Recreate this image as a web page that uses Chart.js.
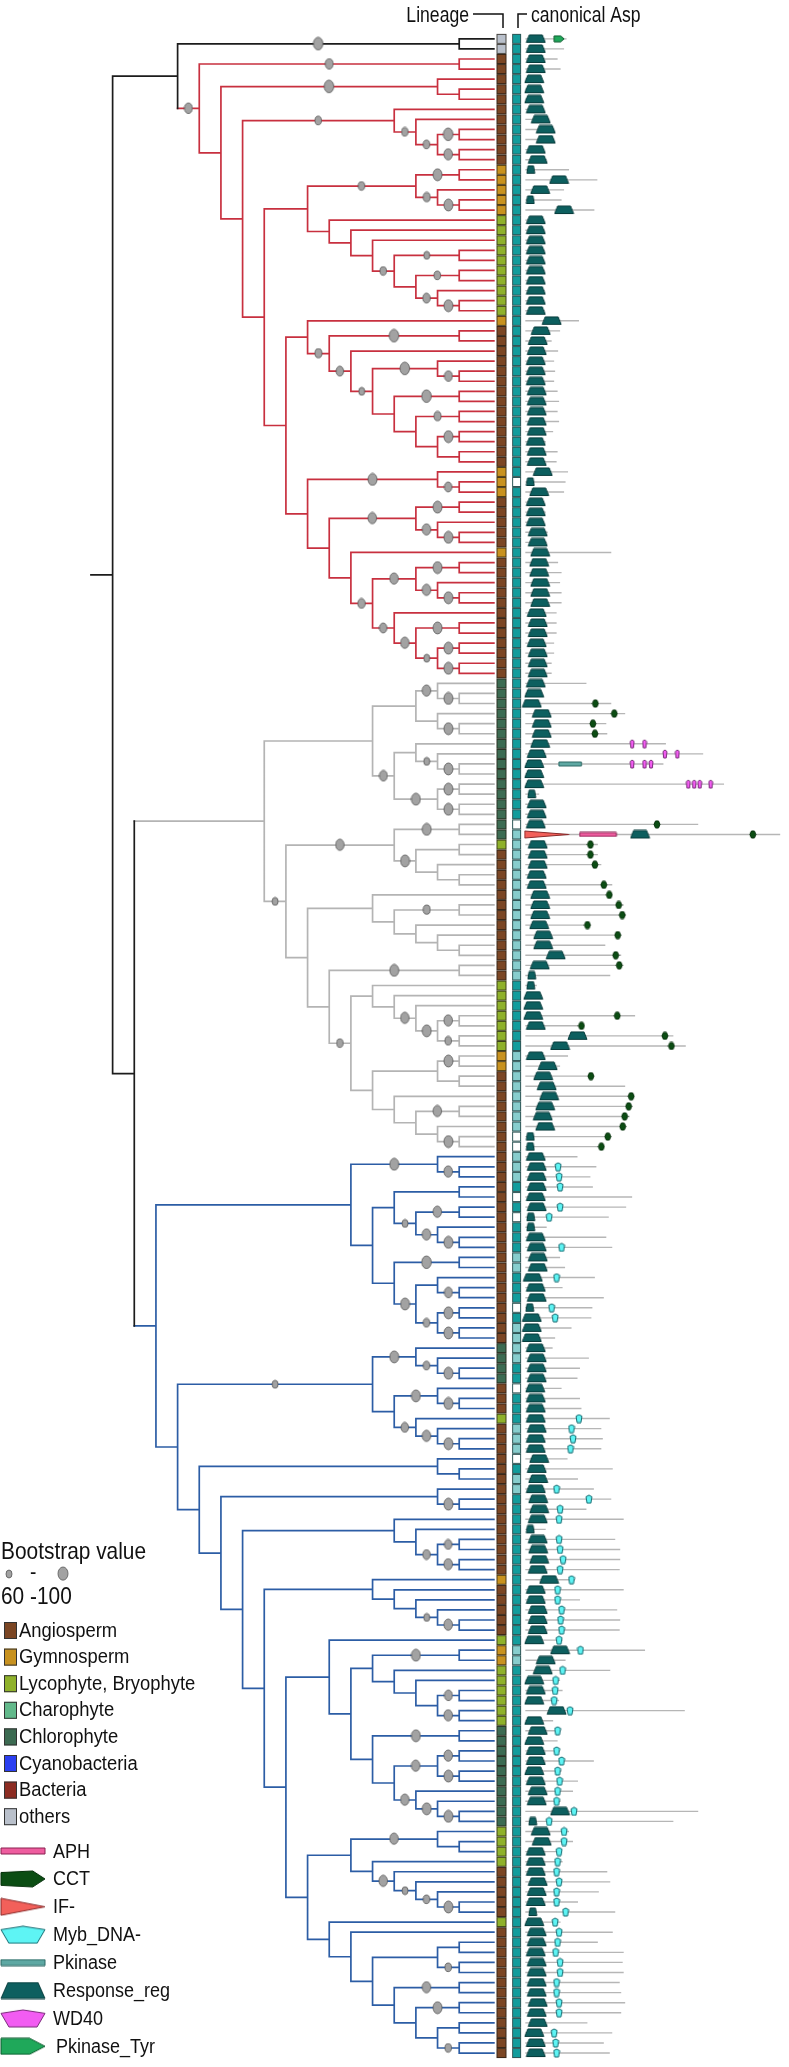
<!DOCTYPE html>
<html>
<head>
<meta charset="utf-8">
<title>Response regulator phylogeny</title>
<script src="https://cdn.jsdelivr.net/npm/chart.js@4.4.1/dist/chart.umd.min.js"></script>
<style>
  html, body { margin: 0; padding: 0; background: #fff; }
  #box { width: 789px; height: 2067px; }
</style>
</head>
<body>
<div id="box"><canvas id="tree" width="789" height="2067"></canvas></div>
<script>
// ---------- tree (cladogram levels, bootstrap 60-100 after ':') ----------
const cladeOthers = '(x,x)16:95';

const redA = '(x,(x,((x,x)16:95,(x,x)16:85)15:65)14:65)13:65';
const redB = '((x,x)16:90,(x,(x,x)16:90)15:70)14:65';
const redC = '(x,(x,(x,((x,x)16:60,((x,x)16:65,(x,(x,x)16:90)15:75)14)13:65)12)11)10';
const redD = '(x,((x,x)16:95,(x,((x,(x,x)16:80)15:95,((x,x)16:95,((x,x)16:70,((x,x)16:90,(x,x)16)15)14)13)12:60)11:75)10:70)9';
const redE = '(((x,x)16:90,(x,(x,x)16:90)15:85)14:85,(x,(((x,x)16:90,(x,(x,x)16:90)15:85)14:85,(x,((x,x)16:90,((x,x)16:90,(x,x)16:90)15:60)14:85)13:75)12:75)11)10';
const cladeRed = '((x,x)16:80,((x,(x,x)16)15:95,(' + redA + ',((' + redB + ',' + redC + ')9,(' + redD +
  ',((x,(x,x)16:75)15:90,' + redE + ')9)8)7)6)5)4:80#r';

const grayA = '(((x,(x,x)16:90)15:85,(x,(x,x)16:90)15)14,((x,(x,(x,x)16:90)15:60)14,((x,x)16:90,(x,x)16:90)15:90)13:80)12';
const grayB = '((x,x)16:90,((x,x)16,(x,(x,x)16)15)14:90)13:85';
const grayC = '((x,((x,x)16:70,(x,(x,(x,x)16)15)14)13)12,((x,x)16:90,((x,(x,(x,((x,x)16:85,(x,x)16:65)15:90)14:85)13)12,(((x,x)16:90,(x,x)16)15,(x,((x,x)16:85,(x,(x,x)16:90)15)14)13)12)11:65)10)9';
const cladeGray = '(' + grayA + ',(' + grayB + ',' + grayC + ')8:60)7#g';

const blueA = '((x,(x,x)16:85)15:90,(((x,x)16,((x,x)16:85,(x,(x,x)16:90)15:85)14:60)13,((x,x)16:95,((x,(x,x)16:80)15,((x,x)16:90,(x,x)16:90)15:65)14:90)13)12)11';
const blueB = '((x,(x,(x,x)16:90)15:65)14:90,((x,(x,x)16:90)15:90,(x,(x,(x,x)16:90)15:85)14:75)13)12:60';
const blueC = '(x,(x,((x,x)16:75,(x,x)16:85)15:75)14)13';
const blueD = '(x,(x,(x,(x,(x,x)16:85)15:60)14)13)12';
const blueE = '(x,(((x,x)16:90,(x,(x,((x,x)16:80,(x,x)16:85)15)14)13)12,((x,x)16:90,(((x,x)16:85,(x,x)16:90)15:85,(x,(x,(x,x)16:90)15:90)14:85)13)12)11)10';
const blueF = '((x,(x,x)16)15:85,(x,(x,(x,(x,(x,x)16:90)15:65)14:60)13:85)12)11';
const blueG = '(x,(x,(((x,x)16,(x,x)16:65)15,((x,x)16:85,((x,x)16:90,((x,x)16,(x,x)16:65)15)14)13)12)11)10';
const cladeBlue = '(' + blueA + ',(' + blueB + ',((x,(x,x)16)15,((x,(x,x)16:90)15,(' + blueC + ',(' + blueD +
  ',(' + blueE + ',(' + blueF + ',' + blueG + ')9)8)7)6)5)4)3)2#b';

const treeNewick = '((' + cladeOthers + ',' + cladeRed + ')3,(' + cladeGray + ',' + cladeBlue + ')1)0';

// ---------- per-leaf annotations, top to bottom (201 leaves) ----------
// O others, A angiosperm, G gymnosperm, L lycophyte/bryophyte, C charophyte, H chlorophyte, Y cyanobacteria, B bacteria
const lineageRuns = [['O',2],['A',11],['G',5],['L',10],['G',1],['A',14],['G',3],['A',5],['G',1],['A',12],
  ['H',16],['L',1],['A',13],['L',7],['G',2],['A',27],['H',4],['A',3],['L',1],['A',15],['G',1],['A',5],
  ['L',1],['G',2],['L',6],['H',10],['L',4],['A',5],['L',1],['A',13]];
// canonical Asp: T present, P partial, W absent
const aspRuns = [['T',44],['W',1],['T',33],['W',1],['P',15],['T',7],['P',8],['W',2],['P',3],['T',1],['W',1],
  ['T',1],['W',1],['T',3],['P',2],['T',3],['W',1],['T',1],['P',4],['T',2],['W',1],['T',3],['P',3],['W',1],
  ['T',1],['P',2],['T',15],['P',2],['T',39]];

// protein length and Response_reg centre, in residues
const protLen = [
  166,156,130,142,66,66,66,76,96,116, 116,76,86,176,290,156,146,278,76,78,
  76,78,76,78,76,78,76,78,216,140, 106,132,116,120,116,130,136,130,136,112,
  82,130,126,172,162,156,76,82,76,90, 86,346,132,146,140,146,146,126,126,126,
  116,116,106,106,246,66,346,402,326,330, 566,716,556,66,800,56,76,76,696,1026,
  292,292,306,82,350,346,396,406,266,386, 322,386,396,342,46,66,56,442,236,596,
  646,172,140,276,402,436,430,420,406,346, 316,210,286,262,272,430,406,336,86,326,
  350,140,160,280,150,316,270,266,186,120, 110,256,220,210,146,220,226,340,306,312,
  306,170,352,212,276,346,246,396,82,362, 382,382,380,200,396,220,370,382,380,150,
  482,162,342,140,150,136,642,112,142,130, 140,276,146,212,192,142,696,596,176,192,
  146,150,330,342,296,212,362,142,352,292, 396,392,396,380,386,402,386,250,350,316,
  340];
const rrPos = [
  42,42,42,42,36,36,36,42,62,82, 82,42,50,22,136,60,20,156,42,42,
  42,42,42,42,42,42,42,42,106,62, 50,46,42,42,42,46,46,46,46,46,
  42,46,46,70,20,56,42,42,42,50, 50,60,56,56,60,60,60,46,50,50,
  46,50,50,50,42,36,26,66,66,66, 60,46,36,36,36,26,46,46,42,462,
  50,50,50,46,46,60,60,60,56,72, 72,122,58,26,22,32,32,32,42,210,
  140,42,90,72,86,96,80,70,80,20, 20,42,46,46,46,42,46,22,22,42,
  46,50,50,30,42,46,18,26,26,26, 42,46,46,46,40,42,42,42,46,42,
  42,56,46,52,42,52,56,50,20,50, 52,56,50,96,42,42,50,50,50,36,
  140,82,70,36,42,36,126,36,50,36, 42,42,36,42,50,46,140,30,62,66,
  42,42,42,50,46,42,30,36,46,46, 42,46,46,46,46,50,46,50,36,42,
  42];
const rrShort = [13,16,44,75,93,94,109,110,117,118,126,148,177,186];

// [leaf, residue]
const cctDomains = [[66,282],[67,358],[68,272],[69,280],[78,530],[79,916],[80,262],[81,262],[82,280],[84,316],
  [85,338],[86,376],[87,390],[88,250],[89,372],[91,364],[92,378],[97,370],[98,226],[99,562],[100,588],
  [103,264],[105,426],[106,416],[107,400],[108,392],[109,332],[110,306]];
const wd40Domains = [[70,430],[70,480],[71,562],[71,612],[72,430],[72,480],[72,506],[74,656],[74,680],[74,702],[74,746]];
const mybDomains = [[112,132],[113,136],[114,140],[116,140],[117,96],[120,146],[123,126],[126,106],[127,120],
  [137,216],[138,186],[139,192],[140,182],[144,126],[145,256],[146,140],[147,136],[149,136],[150,140],[151,152],
  [152,140],[153,186],[154,130],[155,130],[156,146],[157,142],[158,146],[159,136],[160,222],[162,150],[163,122],
  [164,120],[165,116],[166,180],[168,130],[170,126],[171,146],[172,130],[173,138],[174,130],[175,126],[176,196],
  [177,96],[178,156],[179,156],[180,136],[181,130],[182,126],[183,136],[184,126],[185,126],[186,162],[187,120],
  [188,136],[189,130],[190,122],[191,140],[192,140],[193,126],[194,126],[195,136],[196,136],[198,116],[199,122],[200,126]];
const pkTyrDomains = [[0,136]];
// [leaf, start, end]
const pkinaseDomains = [[72,136,226]];
const aphDomains = [[79,220,366]];
const ifDomains = [[79,0,176]];

const lineageNames = ['Angiosperm','Gymnosperm','Lycophyte, Bryophyte','Charophyte','Chlorophyte','Cyanobacteria','Bacteria','others'];
const lineageKeys = ['A','G','L','C','H','Y','B','O'];
const domainNames = ['APH','CCT','IF-','Myb_DNA-','Pkinase','Response_reg','WD40','Pkinase_Tyr'];

// ---------- layout and style ----------
const W = 789, H = 2067;
const depthOrigin = 109, depthStep = 21.94, tipDepth = 17.6;
const lineageCol = 17.95, aspCol = 18.65;
const leafTop = 34, leafStep = 10.12;
const resOrigin = 527, resStep = 0.2516;

const cladeColor = { k: '#1c1c1c', r: '#c8303f', g: '#b4b4b4', b: '#2c5da5' };
const lineageColor = { A: '#7b4624', G: '#c8921f', L: '#8fb12b', C: '#62b98b', H: '#3c6b52', Y: '#2b3ff0', B: '#8d2c22', O: '#b9c0cb' };
const aspColor = { T: '#129c9c', P: '#87cdcd', W: '#ffffff' };

const expand = runs => runs.flatMap(([k, n]) => Array(n).fill(k));
const lineage = expand(lineageRuns);
const canonicalAsp = expand(aspRuns);

function parseTree(s) {
  let i = 0, leaf = 0;
  function node() {
    if (s[i] === 'x') { i++; return { leaf: leaf++ }; }
    i++;
    const kids = [node()];
    while (s[i] === ',') { i++; kids.push(node()); }
    i++;
    const m = /^(\d+)(?::(\d+))?(?:#(\w))?/.exec(s.slice(i));
    if (!m) throw new Error('bad tree near ' + i);
    i += m[0].length;
    return { kids, depth: +m[1], boot: m[2] ? +m[2] : 0, clade: m[3] || null };
  }
  const root = node();
  root.count = leaf;
  return root;
}
function place(n, clade) {
  n.clade = n.clade || clade;
  if (!n.kids) { n.y = n.leaf; n.depth = tipDepth; return; }
  n.kids.forEach(k => place(k, n.clade));
  n.y = (n.kids[0].y + n.kids[n.kids.length - 1].y) / 2;
}
const root = parseTree(treeNewick);
place(root, 'k');

const branchPts = { k: [], r: [], g: [], b: [] };
const bootPts = [];
function collect(n) {
  if (!n.kids) return;
  branchPts[n.clade].push({ x: n.depth, y: n.kids[0].y }, { x: n.depth, y: n.kids[n.kids.length - 1].y }, { x: n.depth, y: null });
  n.kids.forEach(k => {
    branchPts[k.clade].push({ x: n.depth, y: k.y }, { x: k.depth, y: k.y }, { x: k.depth, y: null });
    if (k.boot) bootPts.push({ x: (n.depth + k.depth) / 2, y: k.y, v: k.boot });
    collect(k);
  });
}
branchPts.k.push({ x: -1, y: root.y }, { x: 0, y: root.y }, { x: 0, y: null });
collect(root);

// ---------- glyph images ----------
function makeCanvas(w, h, draw) {
  const c = document.createElement('canvas');
  c.width = Math.ceil(w) + 2; c.height = Math.ceil(h) + 2;
  const g = c.getContext('2d');
  g.translate(1, 1);
  draw(g, w, h);
  return c;
}
function poly(fill, stroke, pts) {
  return (g, w, h) => {
    g.beginPath();
    pts(w, h).forEach(([px, py], k) => k ? g.lineTo(px, py) : g.moveTo(px, py));
    g.closePath();
    g.fillStyle = fill; g.fill();
    g.lineWidth = 1; g.strokeStyle = stroke; g.stroke();
  };
}
const shape = {
  rr: poly('#0d5f5f', '#083c3c', (w, h) => [[w * 0.16, 0], [w * 0.84, 0], [w, h], [0, h]]),
  myb: poly('#5ef4f4', '#156a70', (w, h) => [[0, h * 0.2], [w / 2, 0], [w, h * 0.2], [w * 0.82, h], [w * 0.18, h]]),
  wd40: poly('#f25cf2', '#7a2a7a', (w, h) => [[0, h * 0.2], [w / 2, 0], [w, h * 0.2], [w * 0.82, h], [w * 0.18, h]]),
  cct: poly('#0b4d13', '#05300a', (w, h) => [[w * 0.25, 0], [w * 0.75, 0], [w, h / 2], [w * 0.75, h], [w * 0.25, h], [0, h / 2]]),
  arrowCct: poly('#0b4d13', '#05300a', (w, h) => [[0, h * 0.1], [w * 0.72, 0], [w, h / 2], [w * 0.72, h], [0, h * 0.9]]),
  tyr: poly('#1fa85a', '#0d5a2e', (w, h) => [[0, 0], [w * 0.65, 0], [w, h / 2], [w * 0.65, h], [0, h]]),
  pkinase: poly('#5ea8a3', '#2c6864', (w, h) => [[0, 0], [w, 0], [w, h], [0, h]]),
  aph: poly('#ee5d9f', '#8a2050', (w, h) => [[0, 0], [w, 0], [w, h], [0, h]]),
  ifd: poly('#f2605a', '#8a2a2a', (w, h) => [[0, 0], [w, h / 2], [0, h]])
};
function cellImg(w, h, fill, edge) {
  return makeCanvas(w, h, (g) => {
    g.fillStyle = fill; g.fillRect(0, 0, w, h);
    g.strokeStyle = edge; g.lineWidth = 1; g.strokeRect(0.5, 0.5, w - 1, h - 1);
  });
}
const bootCache = {};
function bootImg(v) {
  const w = 6 + (v - 60) * 0.1, h = 8 + (v - 60) * 0.13;
  const key = w.toFixed(1);
  if (!bootCache[key]) bootCache[key] = makeCanvas(w, h, (g) => {
    g.beginPath(); g.ellipse(w / 2, h / 2, w / 2, h / 2, 0, 0, Math.PI * 2);
    g.fillStyle = '#a2a2a2'; g.fill(); g.strokeStyle = '#555'; g.lineWidth = 0.8; g.stroke();
  });
  return bootCache[key];
}
const lineageCells = {};
lineageKeys.forEach(k => { lineageCells[k] = cellImg(10, 10, lineageColor[k], 'rgba(35,30,20,0.75)'); });
const aspCells = {};
Object.keys(aspColor).forEach(k => { aspCells[k] = cellImg(9, 10, aspColor[k], '#2e5656'); });
const rrImg = makeCanvas(19, 7.5, shape.rr), rrShortImg = makeCanvas(8, 7.5, shape.rr);
const mybImg = makeCanvas(6, 8, shape.myb), wd40Img = makeCanvas(4, 8, shape.wd40);
const cctImg = makeCanvas(6, 7, shape.cct), tyrImg = makeCanvas(10, 6, shape.tyr);
function spanImg(kind, s, e, h) { return makeCanvas((e - s) * resStep, h, shape[kind]); }
const pick = (fn, dflt) => c => (c.raw ? fn(c.raw) : dflt);

// ---------- datasets ----------
const datasets = [];
Object.keys(branchPts).forEach(k => datasets.push({
  data: branchPts[k], showLine: true, pointRadius: 0, borderColor: cladeColor[k], borderWidth: 1.7,
  borderCapStyle: 'square', spanGaps: false, order: 6
}));
datasets.push({ data: bootPts, pointStyle: pick(r => bootImg(r.v), 'circle'), pointRadius: 3, order: 0 });
datasets.push({ data: lineage.map((c, i) => ({ x: lineageCol, y: i, c })), pointStyle: pick(r => lineageCells[r.c], 'rect'), pointRadius: 3, order: 5 });
datasets.push({ data: canonicalAsp.map((c, i) => ({ x: aspCol, y: i, c })), pointStyle: pick(r => aspCells[r.c], 'rect'), pointRadius: 3, order: 5 });

const protLine = [];
protLen.forEach((len, i) => protLine.push({ x: 0, y: i }, { x: len, y: i }, { x: len, y: null }));
datasets.push({ xAxisID: 'xd', data: protLine, showLine: true, pointRadius: 0, borderColor: '#b6b6b6', borderWidth: 1.4, spanGaps: false, order: 4 });
datasets.push({ xAxisID: 'xd', data: rrPos.map((p, i) => ({ x: p, y: i, s: rrShort.includes(i) })),
  pointStyle: pick(r => r.s ? rrShortImg : rrImg, 'rect'), pointRadius: 3, order: 2 });
datasets.push({ xAxisID: 'xd', data: cctDomains.map(([i, p]) => ({ x: p, y: i })), pointStyle: cctImg, pointRadius: 3, order: 2 });
datasets.push({ xAxisID: 'xd', data: mybDomains.map(([i, p]) => ({ x: p, y: i })), pointStyle: mybImg, pointRadius: 3, order: 2 });
datasets.push({ xAxisID: 'xd', data: wd40Domains.map(([i, p]) => ({ x: p, y: i })), pointStyle: wd40Img, pointRadius: 3, order: 2 });
datasets.push({ xAxisID: 'xd', data: pkTyrDomains.map(([i, p]) => ({ x: p, y: i })), pointStyle: tyrImg, pointRadius: 3, order: 2 });
[['pkinase', pkinaseDomains, 4], ['aph', aphDomains, 4], ['ifd', ifDomains, 7]].forEach(([kind, list, h]) => {
  datasets.push({ xAxisID: 'xd', data: list.map(([i, s, e]) => ({ x: (s + e) / 2, y: i, img: spanImg(kind, s, e, h) })),
    pointStyle: pick(r => r.img, 'rect'), pointRadius: 3, order: 3 });
});

// ---------- header and legend ----------
// narrow sans text: a regular face squeezed horizontally
function narrowText(c, str, x, y, size, squeeze, align) {
  c.save();
  c.font = size + 'px "Liberation Sans", Arial, sans-serif';
  c.textAlign = align || 'left';
  c.textBaseline = 'middle';
  c.translate(x, y);
  c.scale(squeeze, 1);
  c.fillText(str, 0, 0);
  c.restore();
}
const annotations = {
  id: 'annotations',
  afterDatasetsDraw(chart) {
    const c = chart.ctx;
    c.save();
    c.fillStyle = '#111'; c.strokeStyle = '#111';
    narrowText(c, 'Lineage', 469, 16, 22, 0.8, 'right');
    narrowText(c, 'canonical Asp', 531, 16, 22, 0.8, 'left');
    c.lineWidth = 1.5;
    c.beginPath();
    c.moveTo(473, 14); c.lineTo(503, 14); c.lineTo(503, 28);
    c.moveTo(518, 28); c.lineTo(518, 14); c.lineTo(527, 14);
    c.stroke();

    narrowText(c, 'Bootstrap value', 1, 1552, 24, 0.87);
    narrowText(c, '60 -100', 1, 1597, 24, 0.87);
    const sb = bootImg(60), lb = bootImg(100);
    c.drawImage(sb, 9 - sb.width / 2, 1574 - sb.height / 2);
    c.drawImage(lb, 63 - lb.width / 2, 1574 - lb.height / 2);
    narrowText(c, '-', 30, 1573, 22, 0.87);

    lineageNames.forEach((name, k) => {
      const y = 1630 + k * 26.6;
      c.fillStyle = lineageColor[lineageKeys[k]];
      c.fillRect(4, y - 8, 13, 17);
      c.strokeStyle = '#333'; c.lineWidth = 1; c.strokeRect(4.5, y - 7.5, 12, 16);
      c.fillStyle = '#111';
      narrowText(c, name, 19, y + 1, 20, 0.92);
    });
    const icons = [
      makeCanvas(44, 6, shape.aph), makeCanvas(44, 16, shape.arrowCct), makeCanvas(44, 17, shape.ifd),
      makeCanvas(44, 17, shape.myb), makeCanvas(44, 6, shape.pkinase), makeCanvas(44, 16, shape.rr),
      makeCanvas(44, 17, shape.wd40), makeCanvas(44, 16, shape.tyr)
    ];
    domainNames.forEach((name, k) => {
      const y = 1851 + k * 27.9;
      c.drawImage(icons[k], 23 - icons[k].width / 2, y - icons[k].height / 2);
      narrowText(c, name, k === 7 ? 56 : 53, y + 1, 20, 0.9);
    });
    c.restore();
  }
};

new Chart(document.getElementById('tree'), {
  type: 'scatter',
  data: { datasets },
  options: {
    responsive: false, maintainAspectRatio: false, animation: false, events: [],
    layout: { padding: 0 },
    plugins: { legend: { display: false }, tooltip: { enabled: false } },
    scales: {
      x: { type: 'linear', display: false, min: -depthOrigin / depthStep, max: (W - depthOrigin) / depthStep },
      xd: { type: 'linear', axis: 'x', display: false, min: -resOrigin / resStep, max: (W - resOrigin) / resStep },
      y: { type: 'linear', display: false, reverse: true, min: -leafTop / leafStep, max: (H - leafTop) / leafStep }
    }
  },
  plugins: [annotations]
});
</script>
</body>
</html>
